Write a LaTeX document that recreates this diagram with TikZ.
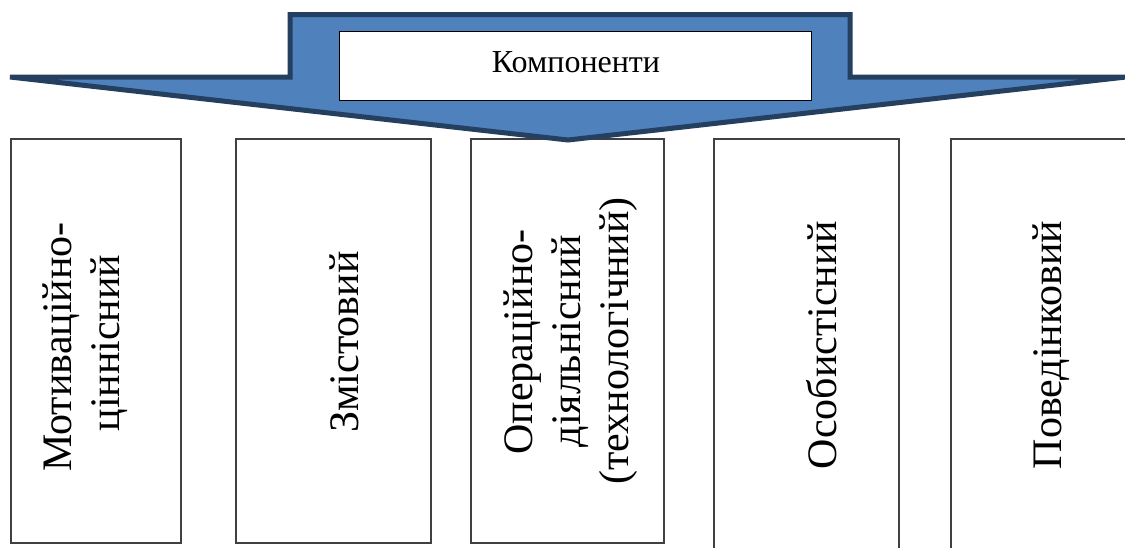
\documentclass[tikz,border=0pt]{standalone}
\usepackage{fontspec}
\setmainfont{Liberation Serif}
\definecolor{arrowfill}{HTML}{4F81BD}
\definecolor{arrowline}{HTML}{243F60}
\definecolor{boxline}{HTML}{404040}
\tikzset{
  compbox/.style={draw=boxline, line width=1.5pt, fill=white, rectangle, anchor=north west, inner sep=0pt},
  vlabel/.style={rotate=90, anchor=base, inner sep=0pt, font=\fontsize{42}{48}\selectfont},
  titlebox/.style={draw=black, line width=1.2pt, fill=white, rectangle, anchor=north west, inner sep=0pt, minimum width=472pt, minimum height=69pt},
  titletext/.style={anchor=base, inner sep=0pt, font=\fontsize{32}{38}\selectfont},
  bigarrow/.style={fill=arrowfill, draw=arrowline, line width=5pt, line join=miter}
}
\begin{document}
\begin{tikzpicture}[x=1pt, y=-1pt]
\useasboundingbox (0,0) rectangle (1125,547);
\clip (0,0) rectangle (1125,547);
\fill[white] (0,0) rectangle (1125,547);
% component boxes
\node[compbox, minimum width=170pt, minimum height=404pt] (b1) at (10,138) {};
\node[compbox, minimum width=195pt, minimum height=404pt] (b2) at (235,138) {};
\node[compbox, minimum width=193pt, minimum height=404pt] (b3) at (470,138) {};
\node[compbox, minimum width=185pt, minimum height=430pt] (b4) at (713,138) {};
\node[compbox, minimum width=190pt, minimum height=430pt] (b5) at (950,138) {};
% labels
\node[vlabel] (t1a) at (71,347) {Мотиваційно-};
\node[vlabel] (t1b) at (119,343) {ціннісний};
\node[vlabel] (t2) at (358,342) {Змістовий};
\node[vlabel] (t3a) at (532,342) {Операційно-};
\node[vlabel] (t3b) at (580,341) {діяльнісний};
\node[vlabel] (t3c) at (628,341) {(технологічний)};
\node[vlabel] (t4) at (836,345) {Особистісний};
\node[vlabel] (t5) at (1061,345) {Поведінковий};
% big arrow
\coordinate (lt) at (10,77);
\coordinate (rt) at (1126,77);
\coordinate (tip) at (568,140);
\draw[bigarrow] (lt) -- (290,77) -- (290,14.5) -- (850,14.5) -- (850,77) -- (rt) -- (tip) -- cycle;
% title
\node[titlebox] (tb) at (339,31) {};
\node[titletext] (title) at (576,72) {Компоненти};
\end{tikzpicture}
\end{document}
